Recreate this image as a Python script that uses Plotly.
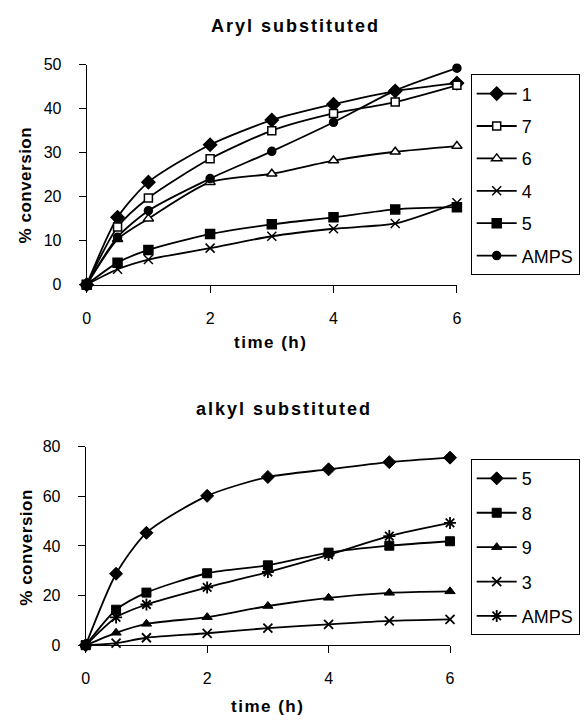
import plotly.graph_objects as go

time = [0, 0.5, 1, 2, 3, 4, 5, 6]

# Aryl substituted
aryl_names = ["1", "7", "6", "4", "5", "AMPS"]
aryl_1 = [0, 15.3, 23.3, 31.8, 37.4, 41.0, 44.0, 45.8]
aryl_7 = [0, 13.1, 19.7, 28.6, 35.0, 38.9, 41.5, 45.3]
aryl_6 = [0, 10.3, 15.0, 23.3, 25.2, 28.2, 30.2, 31.5]
aryl_4 = [0, 3.5, 5.7, 8.3, 11.0, 12.7, 13.9, 18.6]
aryl_5 = [0, 5.0, 7.9, 11.5, 13.7, 15.3, 17.1, 17.6]
aryl_amps = [0, 10.8, 16.8, 24.1, 30.3, 36.9, 44.1, 49.2]

# alkyl substituted
alkyl_names = ["5", "8", "9", "3", "AMPS"]
alkyl_5 = [0, 28.8, 45.3, 60.2, 67.8, 70.9, 73.8, 75.6]
alkyl_8 = [0, 14.3, 21.2, 29.0, 32.2, 37.3, 40.1, 41.9]
alkyl_9 = [0, 5.0, 8.6, 11.3, 15.8, 19.1, 21.1, 21.7]
alkyl_3 = [0, 0.8, 3.0, 4.8, 6.9, 8.4, 9.8, 10.4]
alkyl_amps = [0, 11.2, 16.4, 23.3, 29.5, 36.4, 44.0, 49.3]

FONT = "Liberation Sans, Arial, sans-serif"

fig = go.Figure()

# (symbol, fill colour, size)
aryl_style = [("diamond", "black", 10), ("square", "white", 8), ("triangle-up", "white", 9),
              ("x-thin-open", "black", 9), ("square", "black", 9), ("circle", "black", 8)]
aryl_series = [aryl_1, aryl_7, aryl_6, aryl_4, aryl_5, aryl_amps]
for name, ys, (sym, col, sz) in zip(aryl_names, aryl_series, aryl_style):
    fig.add_trace(go.Scatter(
        x=time, y=ys, name=name, mode="lines+markers",
        line=dict(color="black", width=1.8, shape="spline", smoothing=0.7),
        marker=dict(symbol=sym, size=sz, color=col,
                    line=dict(color="black", width=1.5)),
        xaxis="x", yaxis="y", legend="legend", legendgroup="a" + name,
        cliponaxis=False,
    ))

alkyl_style = [("diamond", "black", 10), ("square", "black", 9), ("triangle-up", "black", 9),
               ("x-thin-open", "black", 9), ("asterisk-open", "black", 10)]
alkyl_series = [alkyl_5, alkyl_8, alkyl_9, alkyl_3, alkyl_amps]
for name, ys, (sym, col, sz) in zip(alkyl_names, alkyl_series, alkyl_style):
    fig.add_trace(go.Scatter(
        x=time, y=ys, name=name, mode="lines+markers",
        line=dict(color="black", width=1.8, shape="spline", smoothing=0.7),
        marker=dict(symbol=sym, size=sz, color=col,
                    line=dict(color="black", width=1.8 if "open" in sym else 1)),
        xaxis="x2", yaxis="y2", legend="legend2", legendgroup="b" + name,
        cliponaxis=False,
    ))

axis_common = dict(showline=True, linecolor="black", linewidth=1, ticks="outside",
                   ticklen=7, tickcolor="black", tickwidth=1, showgrid=False,
                   zeroline=False, tickfont=dict(family=FONT, size=16, color="black"))

W, H = 584, 724
fig.update_layout(
    width=W, height=H,
    margin=dict(l=0, r=0, t=0, b=0),
    paper_bgcolor="white", plot_bgcolor="white",
    font=dict(family=FONT, color="black"),
    xaxis=dict(domain=[84 / W, 460 / W], range=[0, 6], tickvals=[0, 2, 4, 6],
               anchor="y", ticklabelstandoff=12, **axis_common),
    yaxis=dict(domain=[(H - 283.3) / H, (H - 58) / H], range=[0, 50],
               tickvals=[0, 10, 20, 30, 40, 50], anchor="x", ticklabelstandoff=14,
               **axis_common),
    xaxis2=dict(domain=[83 / W, 453 / W], range=[0, 6], tickvals=[0, 2, 4, 6],
                anchor="y2", ticklabelstandoff=12, **axis_common),
    yaxis2=dict(domain=[(H - 652.5) / H, (H - 449.3) / H], range=[0, 80],
                tickvals=[0, 20, 40, 60, 80], anchor="x2", ticklabelstandoff=14,
                **axis_common),
    legend=dict(x=474 / W, y=1 - 68 / H, xanchor="left", yanchor="top",
                bordercolor="black", borderwidth=1, bgcolor="white",
                font=dict(family=FONT, size=18, color="black"),
                tracegroupgap=6, itemwidth=40),
    legend2=dict(x=474 / W, y=1 - 462 / H, xanchor="left", yanchor="top",
                 bordercolor="black", borderwidth=1, bgcolor="white",
                 font=dict(family=FONT, size=18, color="black"),
                 tracegroupgap=8, itemwidth=40),
    showlegend=True,
)

def ann(text, x, y, size, spacing, angle=0):
    fig.add_annotation(text='<span style="letter-spacing:%spx">%s</span>' % (spacing, text),
                       x=x / W, y=1 - y / H, xref="paper", yref="paper",
                       showarrow=False, textangle=angle,
                       font=dict(family=FONT, size=size, color="black", weight="bold"),
                       xanchor="center", yanchor="middle")

ann("Aryl substituted", 296, 18, 18, 2)
ann("alkyl substituted", 284, 411, 18, 2)
ann("time (h)", 271, 343, 17, 1.5)
ann("time (h)", 268, 715, 17, 1.5)
ann("% conversion", 22, 181, 17, 0.5, -90)
ann("% conversion", 22, 552, 17, 0.5, -90)

fig.write_html("out.html", config={"displayModeBar": False},
               post_script="document.body.style.margin='0';document.body.style.overflow='hidden';")
